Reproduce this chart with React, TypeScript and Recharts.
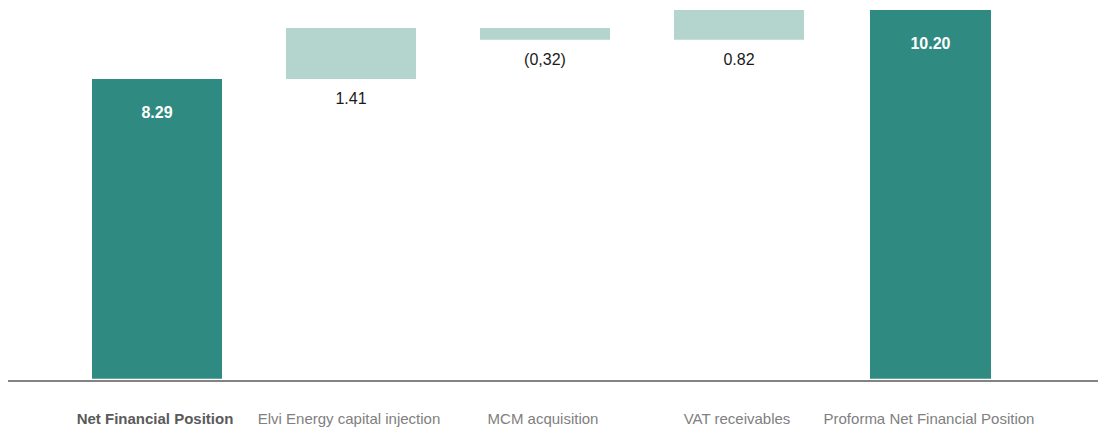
import React from "react";
import { BarChart, Bar, XAxis, YAxis, Cell, LabelList, Rectangle } from "recharts";

// Waterfall steps
const categories = [
  "Net Financial Position",
  "Elvi Energy capital injection",
  "MCM acquisition",
  "VAT receivables",
  "Proforma Net Financial Position",
];
const values = [8.29, 1.41, -0.32, 0.82, 10.2];
const valueLabels = ["8.29", "1.41", "(0,32)", "0.82", "10.20"];
const isTotal = [true, false, false, false, true];

const DARK = "#2f8a81";
const LIGHT = "#b3d5ce";
const FONT = "'Liberation Sans', Arial, Helvetica, sans-serif";
const LAST = categories.length - 1;

// build floating bars: invisible base + visible size
let running = 0;
const rows = categories.map((name, i) => {
  const v = values[i];
  let base = 0;
  let size = v;
  if (isTotal[i]) {
    running = v;
  } else if (v >= 0) {
    base = running;
    running += v;
  } else {
    base = running + v;
    size = -v;
    running += v;
  }
  return { name, base, size, label: valueLabels[i], total: isTotal[i] };
});

const CategoryTick = (props: any) => {
  const { x, y, payload, index } = props;
  const bold = index === 0;
  return (
    <text
      x={index === LAST ? x - 4 : x - 2}
      y={y + 35}
      textAnchor="middle"
      fontFamily={FONT}
      fontSize={15}
      fontWeight={bold ? 700 : 400}
      fill={bold ? "#5a5a5a" : "#808080"}
    >
      {payload.value}
    </text>
  );
};

// the closing bar is drawn a little narrower in the original
const StepBar = (props: any) => {
  const { index, x, width } = props;
  if (index === LAST) {
    return <Rectangle {...props} x={x + 2} width={width - 9} />;
  }
  return <Rectangle {...props} />;
};

const ValueLabel = (props: any) => {
  const { x, y, width, height, index } = props;
  const row = rows[index];
  if (row.total) {
    const cx = index === LAST ? x + 2 + (width - 9) / 2 : x + width / 2;
    return (
      <text
        x={cx}
        y={y + 39}
        textAnchor="middle"
        fontFamily={FONT}
        fontSize={16}
        fontWeight={700}
        fill="#ffffff"
      >
        {row.label}
      </text>
    );
  }
  return (
    <text
      x={x + width / 2}
      y={y + height + 25}
      textAnchor="middle"
      fontFamily={FONT}
      fontSize={16}
      fill="#1a1a1a"
    >
      {row.label}
    </text>
  );
};

const App: React.FC = () => {
  return (
    <div style={{ width: 1098, height: 427, background: "#fff" }}>
      <style>{`body{margin:0}`}</style>
      <BarChart
        width={1098}
        height={427}
        data={rows}
        margin={{ top: 10, right: 0, bottom: 0, left: 8 }}
        barSize={130}
      >
        <XAxis
          dataKey="name"
          axisLine={{ stroke: "#5a5a5a", strokeWidth: 1.6 }}
          tickLine={false}
          height={46}
          interval={0}
          padding={{ left: 52, right: 68 }}
          tick={<CategoryTick />}
        />
        <YAxis hide domain={[-0.06, 10.2]} allowDataOverflow />
        <Bar dataKey="base" stackId="w" fill="transparent" isAnimationActive={false} />
        <Bar dataKey="size" stackId="w" shape={<StepBar />} isAnimationActive={false}>
          {rows.map((r, i) => (
            <Cell key={`cell-${i}`} fill={r.total ? DARK : LIGHT} />
          ))}
          <LabelList dataKey="size" content={<ValueLabel />} />
        </Bar>
      </BarChart>
    </div>
  );
};

export default App;
